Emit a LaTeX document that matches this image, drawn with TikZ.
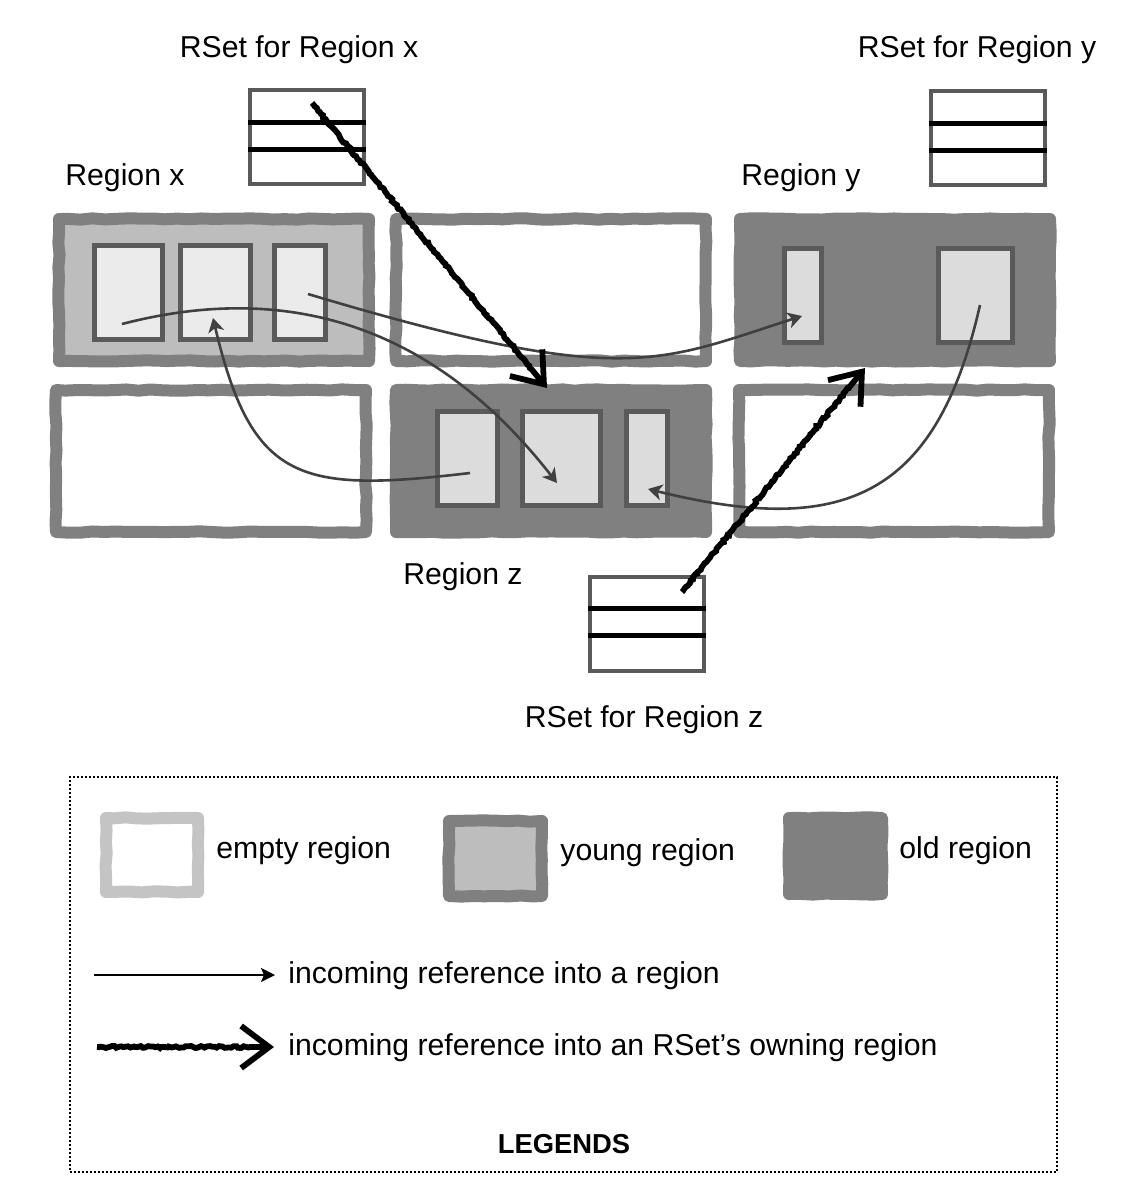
\documentclass[tikz,border=0pt]{standalone}
\usepackage{fontspec}
\setmainfont{Liberation Sans}
\usetikzlibrary{arrows.meta}
\usetikzlibrary{decorations.pathmorphing}
\definecolor{regborder}{HTML}{808080}
\definecolor{youngfill}{HTML}{BDBDBD}
\definecolor{emptyline}{HTML}{C4C4C4}
\definecolor{cellborder}{HTML}{5A5A5A}
\definecolor{cellxfill}{HTML}{EBEBEB}
\definecolor{cellyfill}{HTML}{DCDCDC}
\definecolor{refcol}{HTML}{404040}

\begin{document}
\pgfmathsetseed{11}
\begin{tikzpicture}[x=0.5pt,y=-0.5pt,font=\fontsize{15.1pt}{18pt}\selectfont,
    region/.style={draw=regborder,line width=6pt,line join=round,inner sep=0pt,minimum width=155pt,minimum height=71pt,decorate,decoration={random steps,segment length=6pt,amplitude=0.35pt}},
    emptyreg/.style={region,fill=white},
    youngreg/.style={region,fill=youngfill},
    oldreg/.style={region,fill=regborder},
    cellx/.style={draw=cellborder,line width=2.5pt,inner sep=0pt,minimum height=47pt,fill=cellxfill},
    celly/.style={cellx,fill=cellyfill},
    rset/.style={draw=cellborder,line width=2pt,inner sep=0pt,minimum width=57pt,minimum height=47pt,fill=white},
    slot/.style={draw=black,line width=2.5pt},
    ref/.style={draw=refcol,line width=1.3pt,-{Stealth[length=7pt,width=8pt,inset=2pt]}},
    refkey/.style={draw=black,line width=1pt,-{Stealth[length=7pt,width=7pt,inset=1.5pt]}},
    owning/.style={draw=black,line width=2.9pt,decorate,decoration={random steps,segment length=1.2pt,amplitude=0.5pt,post=lineto,post length=12pt},-{Straight Barb[length=14pt,width=21pt]}},
    txt/.style={inner sep=0pt}]
  \useasboundingbox (0,0) rectangle (1141,1185);

  % regions
  \node[youngreg] (regx) at (214,290) {};
  \node[emptyreg] (regm) at (551,290) {};
  \node[oldreg] (regy) at (895,290) {};
  \node[emptyreg] (regbl) at (211,461) {};
  \node[oldreg] (regz) at (551,461) {};
  \node[emptyreg] (regbr) at (894,461) {};

  % objects inside the regions
  \node[cellx,minimum width=34pt] (xc1) at (128.5,292.5) {};
  \node[cellx,minimum width=35pt] (xc2) at (215.5,292.5) {};
  \node[cellx,minimum width=25.5pt] (xc3) at (300,292.5) {};
  \node[celly,minimum width=18.5pt] (yc1) at (803,295.5) {};
  \node[celly,minimum width=37pt] (yc2) at (975.5,295.5) {};
  \node[celly,minimum width=30pt] (zc1) at (467.5,458.5) {};
  \node[celly,minimum width=39pt] (zc2) at (561.5,458.5) {};
  \node[celly,minimum width=20.5pt] (zc3) at (647,458.5) {};

  % remembered sets
  \node[rset] (rsetx) at (306.5,137) {};
  \node[rset] (rsety) at (987.5,138) {};
  \node[rset] (rsetz) at (647,623.5) {};
  \foreach \r in {rsetx,rsety,rsetz} {
    \draw[slot] ([yshift=7.5pt]\r.west) -- ([yshift=7.5pt]\r.east);
    \draw[slot] ([yshift=-6pt]\r.west) -- ([yshift=-6pt]\r.east);
  }

  \node[txt,anchor=base] (lrsetx) at (299,57) {RSet for Region x};
  \node[txt,anchor=base] (lrsety) at (977,57) {RSet for Region y};
  \node[txt,anchor=base west] (lregx) at (65,185) {Region x};
  \node[txt,anchor=base west] (lregy) at (741,185) {Region y};
  \node[txt,anchor=base west] (lregz) at (403,584) {Region z};
  \node[txt,anchor=base] (lrsetz) at (644,727) {RSet for Region z};

  % references
  \coordinate (xa) at (122,324);
  \coordinate (xb) at (308,294);
  \coordinate (xt) at (213,318);
  \coordinate (ya) at (980,305);
  \coordinate (yt) at (802,316);
  \coordinate (za) at (470,473);
  \coordinate (zt) at (557,483);
  \coordinate (zu) at (648,489);
  \draw[ref] (xb) .. controls +(317,95) and +(-144,46) .. (yt);
  \draw[ref] (xa) .. controls +(208,-54) and +(-93,-119) .. (zt);
  \draw[ref] (za) .. controls +(-170,20) and +(39,165) .. (xt);
  \draw[ref] (ya) .. controls +(-44,194) and +(194,48) .. (zu);

  \coordinate (sxa) at (312,103);
  \coordinate (zr) at (547,388);
  \coordinate (sza) at (682,592);
  \coordinate (yr) at (865,368);
  \draw[owning] (sxa) -- (zr);
  \draw[owning] (sza) -- (yr);

  % legend
  \node[draw=black,line width=0.8pt,dash pattern=on 1pt off 1pt,inner sep=0pt,minimum width=493.5pt,minimum height=197.5pt] (legend) at (563.5,974.5) {};
  \node[emptyreg,draw=emptyline,minimum width=46pt,minimum height=37pt] (iempty) at (152,855) {};
  \node[youngreg,minimum width=46.5pt,minimum height=37.5pt] (iyoung) at (495.5,858.5) {};
  \node[oldreg,minimum width=46.5pt,minimum height=38pt] (iold) at (835.5,856) {};
  \node[txt,anchor=base west] (tempty) at (216,858) {empty region};
  \node[txt,anchor=base west] (tyoung) at (560,860) {young region};
  \node[txt,anchor=base west] (told) at (899,858) {old region};

  \coordinate (pa) at (94,975);
  \coordinate (pb) at (275,975);
  \draw[refkey] (pa) -- (pb);
  \coordinate (oa) at (97,1047);
  \coordinate (ob) at (274,1047);
  \draw[owning] (oa) -- (ob);
  \node[txt,anchor=base west] (tref) at (288,983) {incoming reference into a region};
  \node[txt,anchor=base west] (town) at (288,1055) {incoming reference into an RSet’s owning region};
  \node[txt,anchor=base,font=\fontsize{13.7pt}{16pt}\selectfont\bfseries] (tlegend) at (564,1153) {LEGENDS};
\end{tikzpicture}
\end{document}
